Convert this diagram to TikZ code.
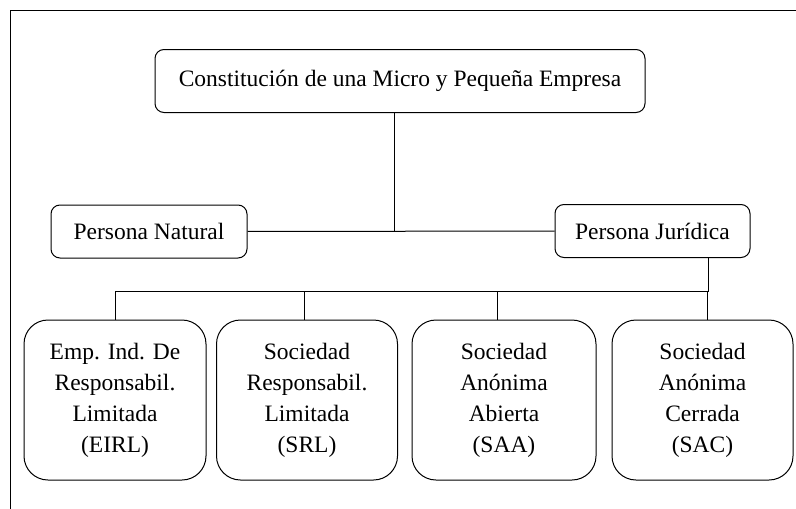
\documentclass[tikz,border=0pt]{standalone}
\usepackage{fontspec}
\setmainfont{Liberation Serif}
\usetikzlibrary{positioning}

\begin{document}
\begin{tikzpicture}[x=1pt,y=-1pt,
    box/.style={draw,line width=1pt,rounded corners=9pt,inner sep=0pt,
      font=\fontsize{23.5}{29}\selectfont},
    typebox/.style={draw,line width=1pt,rounded corners=24pt,inner sep=0pt,
      align=center,minimum width=182pt,minimum height=160pt,
      font=\fontsize{23.5}{31}\selectfont},
    link/.style={line width=1pt}]
    % Parameters
    \def\busY{291}
    \def\rowY{400}

    % Canvas and frame
    \useasboundingbox (0,0) rectangle (796,509);
    \draw[line width=1pt] (10,509) -- (10,10) -- (796,10);

    % Top node
    \node[box,minimum width=490pt,minimum height=63pt] (mype) at (400,81)
      {Constitución de una Micro y Pequeña Empresa};

    % Kinds of person
    \node[box,minimum width=196pt,minimum height=53pt] (natural) at (149,231.5)
      {Persona Natural};
    \node[box,minimum width=195pt,minimum height=53pt] (juridica) at (652.5,231)
      {Persona Jurídica};

    % Kinds of company
    \node[typebox] (eirl) at (115,\rowY) {Emp. Ind. De\\Responsabil.\\Limitada\\(EIRL)};
    \node[typebox,minimum width=181pt] (srl) at (307,\rowY) {Sociedad\\Responsabil.\\Limitada\\(SRL)};
    \node[typebox,minimum width=184pt] (saa) at (504,\rowY) {Sociedad\\Anónima\\Abierta\\(SAA)};
    \node[typebox,minimum width=181pt] (sac) at (702.5,\rowY) {Sociedad\\Anónima\\Cerrada\\(SAC)};

    % Connectors
    \coordinate (bus) at (0,\busY);
    \draw[link] (natural) -- (juridica);
    \draw[link] ([xshift=-6pt]mype.south) -- ([xshift=-6pt]mype.south |- natural.east);
    \draw[link] ([xshift=55.5pt]juridica.south) |- (eirl.north |- bus) -- (eirl.north);
    \draw[link] ([xshift=-3pt]srl.north |- bus) -- ([xshift=-3pt]srl.north);
    \draw[link] ([xshift=-7pt]saa.north |- bus) -- ([xshift=-7pt]saa.north);
    \draw[link] ([xshift=5pt]sac.north |- bus) -- ([xshift=5pt]sac.north);
  \end{tikzpicture}
\end{document}
